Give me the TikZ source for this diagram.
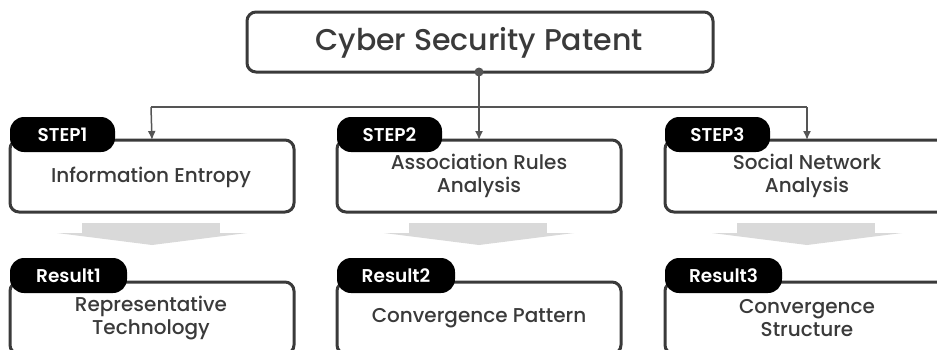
\documentclass[tikz,border=0pt]{standalone}
\usetikzlibrary{arrows.meta}
\usepackage{fontspec}
\setmainfont{Poppins Medium}
\newfontfamily\pillfont{Poppins SemiBold}
\definecolor{boxline}{HTML}{3A3A3A}
\definecolor{txt}{HTML}{3A3A3A}
\definecolor{conn}{HTML}{555555}
\definecolor{garrow}{HTML}{D9D9D9}
\begin{document}
\begin{tikzpicture}[x=1pt,y=-1pt,
  mainbox/.style={draw=boxline,line width=3pt,rounded corners=9pt,fill=white,inner sep=0pt},
  pill/.style={fill=black,rounded corners=14pt,inner sep=0pt,text=white,font=\pillfont\fontsize{18.5}{20}\selectfont},
  boxtext/.style={text=txt,font=\fontsize{20}{23}\selectfont,align=center},
  conline/.style={draw=conn,line width=1.5pt},
  tip/.style={-{Latex[length=9pt,width=8pt]}}
]
\useasboundingbox (0,0) rectangle (937,349);
\begin{scope}
\clip (0,0) rectangle (937,349);
% top box
\draw[mainbox] (247,12) rectangle (713,72);
\node[text=txt,font=\fontsize{30}{32}\selectfont] (top) at (479,43) {Cyber Security Patent};
\coordinate (dot) at (479,72);
\fill[conn] (dot) circle (4.5pt);
\coordinate (hub) at (479,107);
\coordinate (l) at (151,107);
\coordinate (r) at (807,107);
% columns
\foreach \i/\x/\sa in {1/10/STEP1,2/337/STEP2,3/665/STEP3}{
  \draw[mainbox] (\x,140) rectangle ++(284,72);
  \draw[mainbox] (\x,282) rectangle ++(284,72);
  \coordinate (s\i) at ({\x+142},140);
  % grey arrow
  \fill[garrow] ({\x+72},223) rectangle ({\x+210},234);
  \fill[garrow] ({\x+47},233) -- ({\x+237},233) -- ({\x+142},245) -- cycle;
  \node[pill,minimum width=105pt,minimum height=35pt] (p\i) at ({\x+52.5},134.5) {\sa};
}
\node[pill,minimum width=117pt,minimum height=35pt] (q1) at (68.5,275.5) {Result1};
\node[pill,minimum width=118pt,minimum height=35pt] (q2) at (396,275.5) {Result2};
\node[pill,minimum width=117pt,minimum height=35pt] (q3) at (723.5,275.5) {Result3};
% texts
\node[boxtext] (t1) at (151,177) {Information Entropy};
\node[boxtext] (t2) at (479,176) {Association Rules\\Analysis};
\node[boxtext] (t3) at (807,176) {Social Network\\Analysis};
\node[boxtext] (r1) at (151,318) {Representative\\Technology};
\node[boxtext] (r2) at (479,318) {Convergence Pattern};
\node[boxtext] (r3) at (807,318) {Convergence\\Structure};
% connectors
\draw[conline] (dot) -- (hub);
\draw[conline] (l) -- (r);
\draw[conline,tip] (l) -- (s1);
\draw[conline,tip] (hub) -- (s2);
\draw[conline,tip] (r) -- (s3);
\end{scope}
\end{tikzpicture}
\end{document}
